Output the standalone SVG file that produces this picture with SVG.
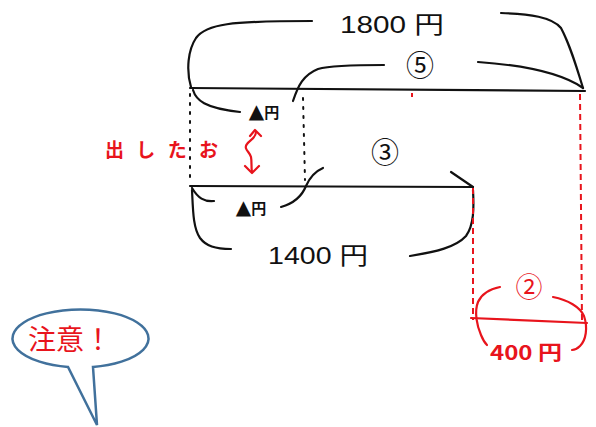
<svg xmlns="http://www.w3.org/2000/svg" width="596" height="427" viewBox="0 0 596 427">
<defs>
<style>
.k{fill:none;stroke:#111;stroke-width:2.2;stroke-linecap:round;stroke-linejoin:round}
.r{fill:none;stroke:#e8141c;stroke-width:2.2;stroke-linecap:round;stroke-linejoin:round}
.dot{fill:none;stroke:#111;stroke-width:2;stroke-dasharray:2 7;stroke-linecap:round}
.rdash{fill:none;stroke:#e8141c;stroke-width:2;stroke-dasharray:6 4}
.t{font-family:"Liberation Sans","Noto Sans CJK JP",sans-serif;fill:#111}
.tr{font-family:"Noto Sans CJK JP","Liberation Sans",sans-serif;fill:#e8141c}
.c{font-family:"Noto Sans CJK JP","DejaVu Sans",sans-serif}
</style>
</defs>
<rect width="596" height="427" fill="#fff"/>
<g id="connectors">
<path class="k" d="M190 88 L585 91"/>
<path class="k" d="M191 87 C186 70 188 50 196 38 C206 24 230 21 312 21"/>
<path class="k" d="M501 13 C530 14 552 17 561 28 C570 45 576 65 583 88"/>
<path class="k" d="M293 101 C298 86 303 75 318 69 C332 65 360 65 384 65"/>
<path class="k" d="M478 62 C520 65 560 72 583 88"/>
<path class="k" d="M193 90 C196 100 204 108 240 112"/>
<path class="dot" d="M190 94 L190 182"/>
<path class="dot" d="M303 98 L305 180"/>
<path class="k" d="M190 186 L473 187"/>
<path class="k" d="M451 172 L473 187"/>
<path class="k" d="M281 207 C295 203 302 196 306 186 C310 177 316 171 323 168"/>
<path class="k" d="M192 188 C198 198 204 202 214 201"/>
<path class="k" d="M192 190 C193 210 193 228 200 238 C206 246 215 249 231 249"/>
<path class="k" d="M473 190 C474 208 474 225 466 236 C456 247 436 252 410 256"/>
<path class="rdash" d="M473 188 L473 320"/>
<path class="rdash" d="M580 94 L582 322"/>
<path class="r" d="M471 318 L587 323"/>
<path class="r" d="M500 287 C490 289 482 293 478 302 C474 312 477 326 481 335 C483 340 485 343 487 345"/>
<path class="r" d="M553 297 C568 300 580 307 584 316 C588 328 586 340 580 346 C577 349 574 350 572 350"/>
<path class="r" d="M256 132 C256 138 250 140 247 144 C243 149 250 152 251 157 C252 162 251 167 252 172"/>
<path class="r" d="M250 136 L255 130 L261 136"/>
<path class="r" d="M245 166 L252 173 L259 166"/>
<path d="M412 93 L412 97" stroke="#e8141c" stroke-width="2"/>
</g>
<g id="label-1800"><text class="t" x="392" y="33" font-size="24" text-anchor="middle" textLength="104" lengthAdjust="spacingAndGlyphs">1800 円</text></g>
<g id="label-5"><text class="t c" x="420" y="76" font-size="28" text-anchor="middle">⑤</text></g>
<g id="label-a1"><text class="t" x="264" y="118" font-size="15" font-weight="bold" text-anchor="middle"><tspan font-size="20" font-family="DejaVu Sans,sans-serif">▲</tspan>円</text></g>
<g id="label-dashita"><text class="tr" x="105" y="157" font-size="19" font-weight="bold" textLength="113" lengthAdjust="spacing">出したお</text></g>
<g id="label-3"><text class="t c" x="385" y="163" font-size="28" text-anchor="middle">③</text></g>
<g id="label-a2"><text class="t" x="251" y="214" font-size="15" font-weight="bold" text-anchor="middle"><tspan font-size="20" font-family="DejaVu Sans,sans-serif">▲</tspan>円</text></g>
<g id="label-1400"><text class="t" x="318" y="264" font-size="24" text-anchor="middle" textLength="100" lengthAdjust="spacingAndGlyphs">1400 円</text></g>
<g id="label-2"><text class="tr" x="529" y="297" font-size="27" text-anchor="middle">②</text></g>
<g id="label-400"><text class="tr" x="526" y="360" font-size="20" font-weight="bold" text-anchor="middle" textLength="72" lengthAdjust="spacingAndGlyphs">400 円</text></g>
<g id="bubble">
<path d="M68 367 A68 29 0 1 1 93 367 L97 425 Z" fill="#fff" stroke="#41719c" stroke-width="2.5" stroke-linejoin="miter"/>
<text class="tr" x="70" y="350" font-size="28" text-anchor="middle">注意！</text>
</g>
</svg>
